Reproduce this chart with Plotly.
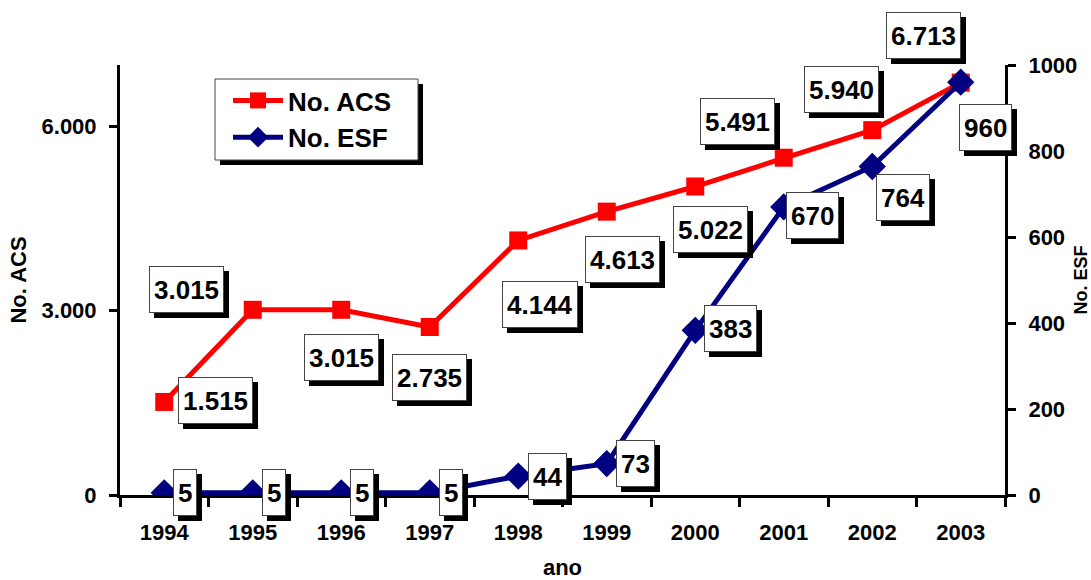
import plotly.graph_objects as go

# ---------------- data ----------------
years = ["1994", "1995", "1996", "1997", "1998", "1999", "2000", "2001", "2002", "2003"]
acs = [1515, 3015, 3015, 2735, 4144, 4613, 5022, 5491, 5940, 6713]
esf = [5, 5, 5, 5, 44, 73, 383, 670, 764, 960]
acs_ticks = [0, 3000, 6000]
acs_ticktext = ["0", "3.000", "6.000"]
esf_ticks = [0, 200, 400, 600, 800, 1000]

# label placement (pixel offsets from the point: dx right, dy down)
acs_label_offsets = [(51, -1), (-66, -20), (0, 48), (0, 51), (22, 64),
                     (16, 48), (15, 43), (-46, -36), (-31, -41), (-37, -47)]
esf_label_offsets = [(21, 0), (21, 0), (21, 0), (21, 0), (29, 0),
                     (29, 0), (35, -2), (29, 9), (31, 31), (25, 45)]

FONT = "Liberation Sans, Arial, Helvetica, sans-serif"
W, H = 1091, 580
PL, PR, PT, PB = 120, 1005, 65, 495


def px(x):
    return (x - PL) / (PR - PL)


def py(y):
    return (PB - y) / (PB - PT)


def fmt_acs(v):
    return f"{v:,}".replace(",", ".")


fig = go.Figure()

fig.add_trace(go.Scatter(
    x=years, y=acs, name="No. ACS", mode="lines+markers",
    line=dict(color="#FF0000", width=5),
    marker=dict(symbol="square", size=18, color="#FF0000"),
    yaxis="y", hoverinfo="skip"))
fig.add_trace(go.Scatter(
    x=years, y=esf, name="No. ESF", mode="lines+markers",
    line=dict(color="#000080", width=5),
    marker=dict(symbol="diamond", size=21, color="#000080"),
    yaxis="y2", hoverinfo="skip"))

LABEL_FONT = dict(family=FONT, size=26, color="black")
annotations = []


def add_label(i, yv, text, yref, off):
    dx, dy = off
    base = dict(x=i, y=yv, xref="x", yref=yref, text="<b>" + text + "</b>",
                showarrow=False, xanchor="center", yanchor="middle",
                borderpad=4, borderwidth=1, height=37, font=LABEL_FONT)
    annotations.append(dict(base, xshift=dx + 5, yshift=-dy - 5,
                            bgcolor="black", bordercolor="black"))
    annotations.append(dict(base, xshift=dx, yshift=-dy,
                            bgcolor="white", bordercolor="#444444"))


for i, (v, off) in enumerate(zip(acs, acs_label_offsets)):
    add_label(i, v, fmt_acs(v), "y", off)
for i, (v, off) in enumerate(zip(esf, esf_label_offsets)):
    add_label(i, v, str(v), "y2", off)

tickfont = dict(family=FONT, size=22, color="black", weight="bold")

fig.update_layout(
    width=W, height=H,
    margin=dict(l=PL, r=W - PR, t=PT, b=H - PB, autoexpand=False),
    paper_bgcolor="white", plot_bgcolor="white",
    font=dict(family=FONT, color="black"),
    showlegend=True,
    legend=dict(x=px(228), y=py(77), xanchor="left", yanchor="top",
                bgcolor="rgba(0,0,0,0)", borderwidth=0, itemwidth=50,
                font=dict(family=FONT, size=26, color="black", weight="bold")),
    xaxis=dict(type="category", range=[-0.5, 9.5], showline=True, linecolor="black", linewidth=3,
               ticks="outside", ticklen=9, tickwidth=3, tickcolor="black",
               tickson="boundaries", showgrid=False, zeroline=False,
               tickfont=tickfont, ticklabelstandoff=16,
               title=dict(text="ano", font=dict(family=FONT, size=22, color="black", weight="bold"),
                          standoff=30),
               automargin=False),
    yaxis=dict(range=[0, 7000], tickvals=acs_ticks, ticktext=acs_ticktext,
               showline=True, linecolor="black", linewidth=3,
               ticks="outside", ticklen=8, tickwidth=3, tickcolor="black",
               showgrid=False, zeroline=False, tickfont=tickfont, ticklabelstandoff=8,
               title=dict(text="No. ACS", font=dict(family=FONT, size=22, color="black", weight="bold"),
                          standoff=9),
               automargin=False),
    yaxis2=dict(range=[0, 1000], tickvals=esf_ticks, overlaying="y", side="right",
                showline=True, linecolor="black", linewidth=3,
                ticks="outside", ticklen=8, tickwidth=3, tickcolor="black",
                showgrid=False, zeroline=False, tickfont=tickfont, ticklabelstandoff=8,
                title=dict(text="No. ESF", font=dict(family=FONT, size=18, color="black", weight="bold"),
                           standoff=4),
                automargin=False),
    shapes=[
        dict(type="rect", xref="paper", yref="paper",
             x0=px(220), x1=px(423), y0=py(165), y1=py(84),
             fillcolor="black", line=dict(width=0), layer="above"),
        dict(type="rect", xref="paper", yref="paper",
             x0=px(215), x1=px(418), y0=py(160), y1=py(79),
             fillcolor="white", line=dict(color="#444444", width=1), layer="above"),
    ],
    annotations=annotations,
)

fig.write_html("out.html")
